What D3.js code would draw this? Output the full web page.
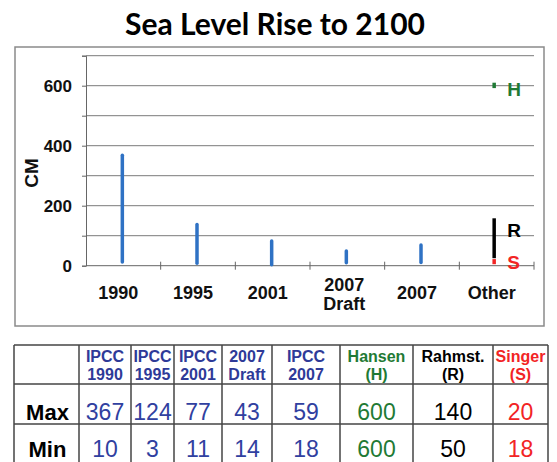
<!DOCTYPE html>
<html><head><meta charset="utf-8">
<script src="https://cdn.jsdelivr.net/npm/d3@7"></script>
<style>
html,body{margin:0;padding:0;background:#fff;}
svg{display:block;}
</style></head>
<body>
<svg id="chart" width="557" height="462"></svg>
<script>
// ---- data ----
const categories = ["1990", "1995", "2001", "2007|Draft", "2007", "Other"];
const ipccHigh = [368, 137, 82, 49, 69];
const ipccLow = [12, 8, 3, 10, 11];
const otherNames = ["H", "R", "S"];
const otherHigh = [610, 158, 22];
const otherLow = [592, 25, 5];
const otherLabelAt = [590, 119, 12];
const otherColors = ["#1f7a35", "#000000", "#f22424"];
const yTicks = [0, 100, 200, 300, 400, 500, 600, 700];
const yLabelTicks = [0, 200, 400, 600];

const tableHeaders = [["IPCC","1990"],["IPCC","1995"],["IPCC","2001"],["2007","Draft"],["IPCC","2007"],["Hansen","(H)"],["Rahmst.","(R)"],["Singer","(S)"]];
const tableColors = ["#2e3a98","#2e3a98","#2e3a98","#2e3a98","#2e3a98","#1f7a35","#000000","#f22424"];
const tableMax = [367, 124, 77, 43, 59, 600, 140, 20];
const tableMin = [10, 3, 11, 14, 18, 600, 50, 18];
const rowLabels = ["Max", "Min"];

// ---- drawing ----
const svg = d3.select("#chart");
const blue = "#2f72c4";

// title
svg.append("text").attr("x", 275).attr("y", 35).attr("text-anchor", "middle")
  .attr("font-family", "Lato, 'Open Sans', sans-serif").attr("font-weight", 700)
  .attr("font-size", 31).attr("textLength", 300).attr("lengthAdjust", "spacingAndGlyphs")
  .text("Sea Level Rise to 2100");

// outer chart frame
svg.append("rect").attr("x", 15).attr("y", 47).attr("width", 529).attr("height", 279)
  .attr("fill", "none").attr("stroke", "#8a8a8a").attr("stroke-width", 1.5);

const x = d3.scaleBand().domain(categories).range([86, 534]);
const y = d3.scaleLinear().domain([0, 700]).range([265.7, 55.7]);

// gridlines
svg.append("g").selectAll("line").data(yTicks.filter(d => d > 0)).join("line")
  .attr("x1", 86).attr("x2", 534).attr("y1", d => y(d)).attr("y2", d => y(d))
  .attr("stroke", "#7a7a7a").attr("stroke-width", 1);

// y axis
const yAxis = svg.append("g").attr("transform", "translate(86,0)")
  .call(d3.axisLeft(y).tickValues(yTicks).tickSize(4).tickFormat(""));
yAxis.select(".domain").attr("stroke", "#666").attr("stroke-width", 1);
yAxis.selectAll(".tick line").attr("stroke", "#666");

svg.append("g").selectAll("text").data(yLabelTicks).join("text")
  .attr("x", 72).attr("y", d => y(d) + 6.5).attr("text-anchor", "end")
  .attr("font-family", "'Liberation Sans', Arial, sans-serif").attr("font-weight", 700)
  .attr("font-size", 17).attr("fill", "#111").text(d => d);

// y title
svg.append("text").attr("transform", "translate(37.5,173) rotate(-90)")
  .attr("text-anchor", "middle").attr("font-family", "'Liberation Sans', Arial, sans-serif")
  .attr("font-weight", 700).attr("font-size", 19).attr("fill", "#111").text("CM");

// x axis
svg.append("line").attr("x1", 86).attr("x2", 534).attr("y1", y(0)).attr("y2", y(0))
  .attr("stroke", "#666").attr("stroke-width", 1);
const bounds = categories.map(c => x(c)).concat([x.range()[1]]).slice(1);
svg.append("g").selectAll("line").data(bounds).join("line")
  .attr("x1", d => d).attr("x2", d => d).attr("y1", y(0) - 4).attr("y2", y(0) + 4)
  .attr("stroke", "#666").attr("stroke-width", 1);

// category labels
const catG = svg.append("g").attr("font-family", "'Liberation Sans', Arial, sans-serif")
  .attr("font-weight", 700).attr("font-size", 18).attr("fill", "#111").attr("text-anchor", "middle");
categories.forEach(c => {
  const parts = c.split("|");
  const cx = x(c) + x.bandwidth() / 2 - 5;
  if (parts.length === 1) {
    catG.append("text").attr("x", cx).attr("y", 298.5).text(parts[0]);
  } else {
    catG.append("text").attr("x", cx + 2).attr("y", 290.5).text(parts[0]);
    catG.append("text").attr("x", cx + 2).attr("y", 309.5).text(parts[1]);
  }
});

// IPCC bars
const ipccCats = categories.slice(0, 5);
svg.append("g").selectAll("line").data(ipccCats).join("line")
  .attr("x1", (c) => x(c) + x.bandwidth() / 2 - 1).attr("x2", (c) => x(c) + x.bandwidth() / 2 - 1)
  .attr("y1", (c, i) => y(ipccLow[i])).attr("y2", (c, i) => y(ipccHigh[i]))
  .attr("stroke", blue).attr("stroke-width", 3.5).attr("stroke-linecap", "round");

// other bars
const ox = x("Other") + x.bandwidth() / 2 - 2.5;
svg.append("g").selectAll("line").data(otherNames).join("line")
  .attr("x1", ox).attr("x2", ox)
  .attr("y1", (d, i) => y(otherLow[i])).attr("y2", (d, i) => y(otherHigh[i]))
  .attr("stroke", (d, i) => otherColors[i]).attr("stroke-width", 3.5);

svg.append("g").selectAll("text").data(otherNames).join("text")
  .attr("x", ox + 13).attr("y", (d, i) => y(otherLabelAt[i]) + 7)
  .attr("font-family", "'Liberation Sans', Arial, sans-serif").attr("font-weight", 700)
  .attr("font-size", 19).attr("fill", (d, i) => otherColors[i]).text(d => d);

// ---- table ----
const colEdges = [14, 79, 131, 174, 222, 272, 340, 413, 493, 548];
const rowEdges = [345, 384, 424, 466];
const tg = svg.append("g");
tg.append("g").selectAll("line").data(colEdges).join("line")
  .attr("x1", d => d).attr("x2", d => d).attr("y1", rowEdges[0]).attr("y2", rowEdges[3])
  .attr("stroke", "#444").attr("stroke-width", 1.5);
tg.append("g").selectAll("line").data(rowEdges).join("line")
  .attr("x1", colEdges[0]).attr("x2", colEdges[colEdges.length - 1]).attr("y1", d => d).attr("y2", d => d)
  .attr("stroke", "#444").attr("stroke-width", 1.5);

const font = "'Liberation Sans', Arial, sans-serif";
tableHeaders.forEach((h, i) => {
  const cx = (colEdges[i + 1] + colEdges[i + 2]) / 2;
  h.forEach((line, j) => {
    tg.append("text").attr("x", cx).attr("y", 361.5 + j * 18.3).attr("text-anchor", "middle")
      .attr("font-family", font).attr("font-weight", 700).attr("font-size", 16)
      .attr("fill", tableColors[i]).text(line);
  });
});
[tableMax, tableMin].forEach((row, r) => {
  const by = r === 0 ? 419.5 : 457;
  tg.append("text").attr("x", (colEdges[0] + colEdges[1]) / 2 + 1).attr("y", by).attr("text-anchor", "middle")
    .attr("font-family", font).attr("font-weight", 700).attr("font-size", 22).attr("fill", "#000")
    .text(rowLabels[r]);
  row.forEach((v, i) => {
    const cx = (colEdges[i + 1] + colEdges[i + 2]) / 2;
    tg.append("text").attr("x", cx).attr("y", by).attr("text-anchor", "middle")
      .attr("font-family", font).attr("font-size", 23).attr("fill", tableColors[i] === "#2e3a98" ? "#3040a0" : tableColors[i])
      .text(v);
  });
});
</script>
</body></html>
